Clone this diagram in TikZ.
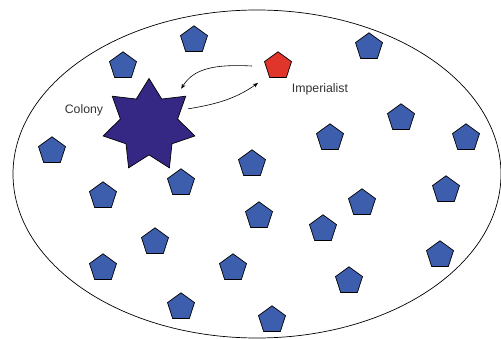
\documentclass[tikz,border=0pt]{standalone}
\usepackage{fontspec}
\setmainfont{Liberation Sans}
\definecolor{ColonyBlue}{HTML}{3D5EAD}
\definecolor{ImpRed}{HTML}{E0352A}
\definecolor{StarPurple}{HTML}{352784}
\definecolor{LabelGray}{HTML}{333333}
\usetikzlibrary{arrows,arrows.meta,shapes,backgrounds,positioning}
\tikzset{
	colony/.style={
		draw,fill=ColonyBlue,line width=0.7pt,
		regular polygon,regular polygon sides=5,minimum size=28.4pt,inner sep=0pt},
	imperial/.style={colony,fill=ImpRed},
	lbl/.style={text=LabelGray,font=\fontsize{12.3}{14}\selectfont,inner sep=0pt},
	arr/.style={-{Stealth[length=5pt,width=4pt]},line width=0.6pt}
}

\begin{document}
\begin{tikzpicture}[x=1pt,y=1pt]
			\useasboundingbox (0,0) rectangle (501,338);
			\node[ellipse,draw,line width=0.7pt,minimum width=488pt,minimum height=328pt,inner sep=0pt] (empire) at (257,164) {};
			% the colonies
			\foreach \x/\y [count=\i] in {194/298,123/272,369/291,401/220,330/200,466/200,52/187,252/174,181/155,103/142,446/148,362/135,259/122,323/109,155/96,103/70,233/70,440/83,349/57,181/31,272/18}
				\node[colony] (c\i) at (\x,\y) {};
			\node[imperial] (imp) at (278,272) {};
			\node[star,star points=7,star point ratio=1.6,minimum size=94pt,inner sep=0pt,draw,line width=0.7pt,fill=StarPurple] (col) at (149,212.5) {};
			\node[lbl] (colname) at (84,228) {Colony};
			\node[lbl] (impname) at (320,249) {Imperialist};
			\draw[arr] ([xshift=-26pt]imp.center) .. controls +(-38,2) and +(12,20) .. ([shift={(-5,7)}]col.outer point 7);
			\draw[arr] ([shift={(2,-13)}]col.outer point 7) .. controls +(32,5) and +(-20,-14) .. ([shift={(-20,-17)}]imp.center);
\end{tikzpicture}
\end{document}
